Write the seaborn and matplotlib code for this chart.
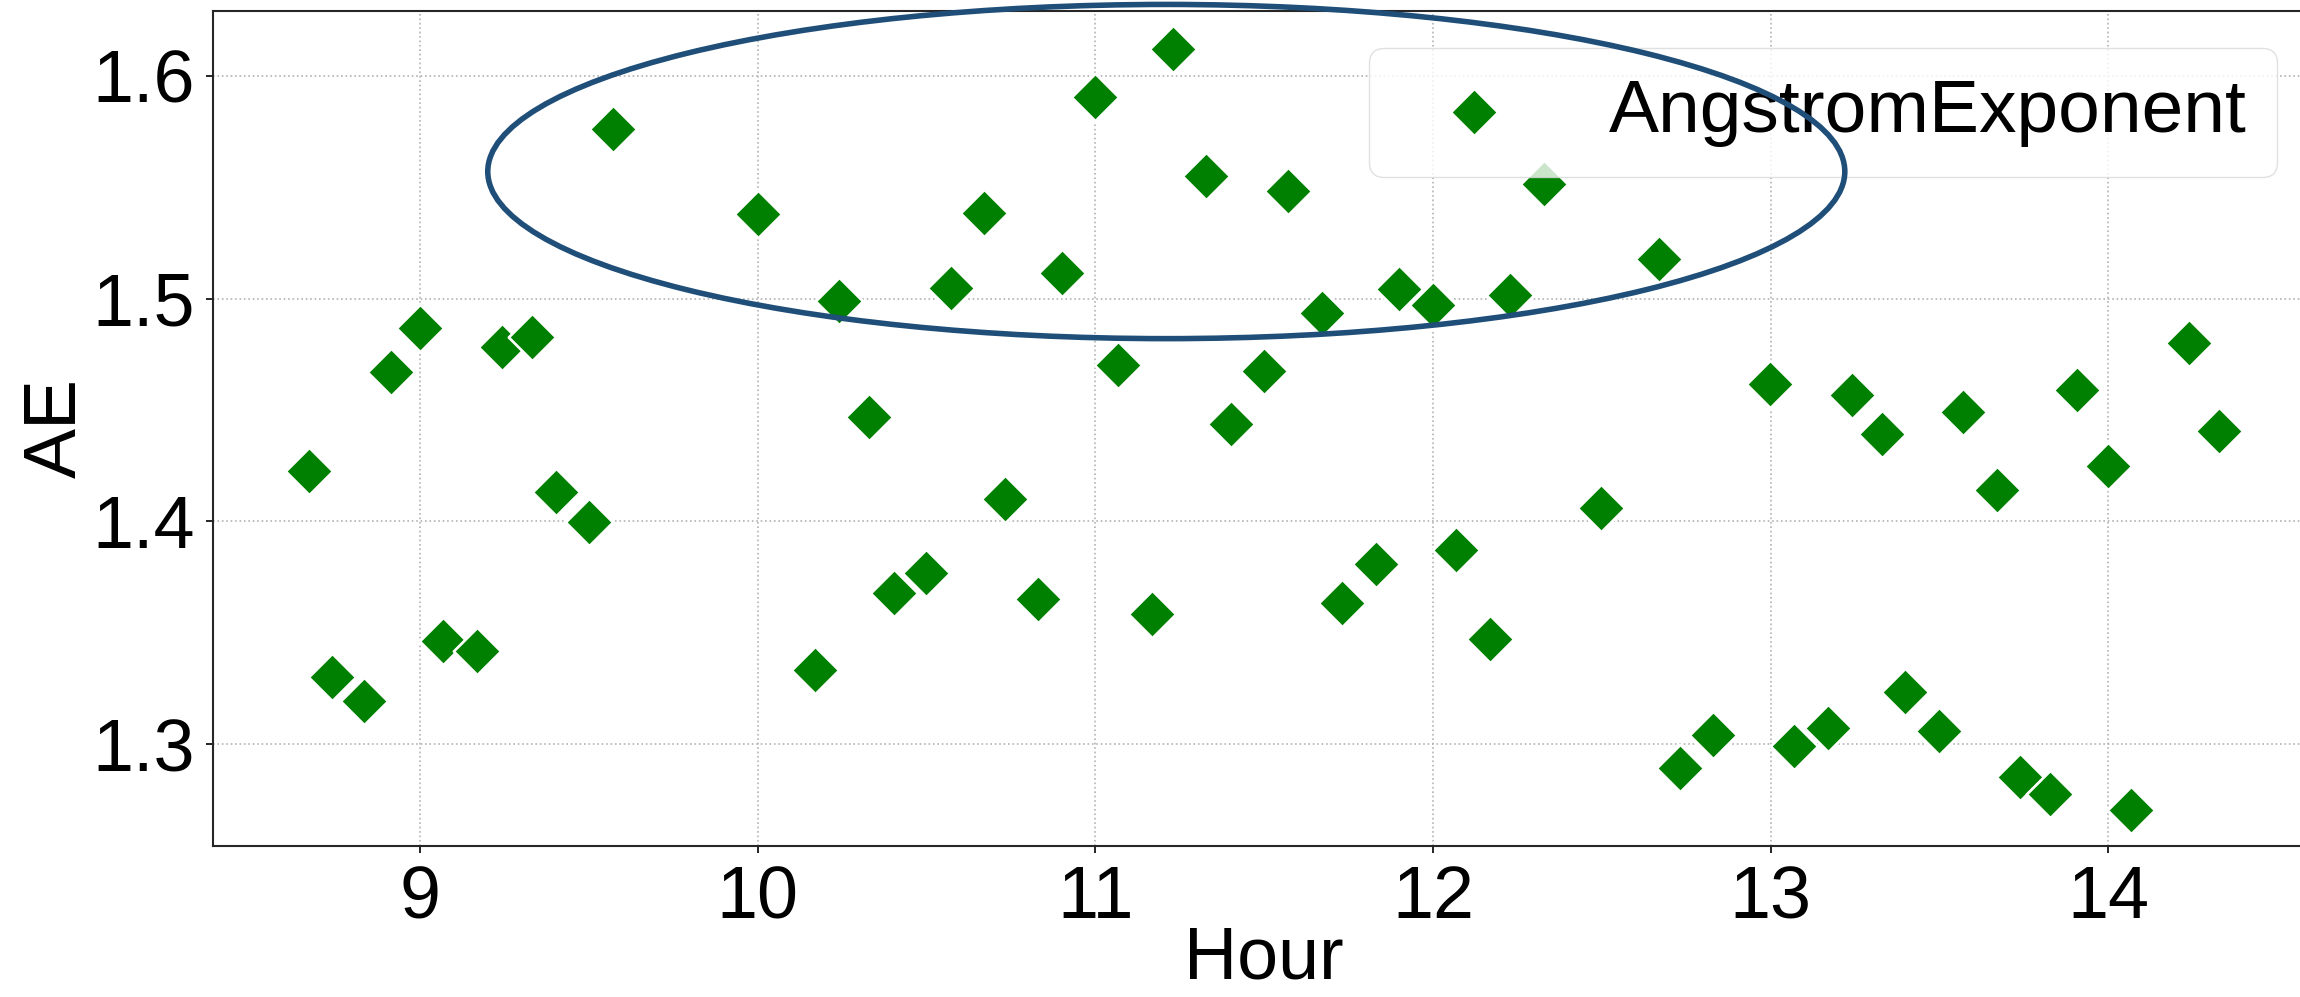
import numpy as np
import pandas as pd
import seaborn as sns
import matplotlib.pyplot as plt
from matplotlib.patches import Ellipse

# hour of day (decimal) and Angstrom exponent
hours = [8.671, 8.739, 8.832, 8.912, 9.000, 9.068, 9.169, 9.241, 9.330, 9.402,
         9.499, 9.571, 10.000, 10.169, 10.241, 10.329, 10.402, 10.498, 10.571, 10.671,
         10.732, 10.831, 10.900, 11.000, 11.068, 11.169, 11.229, 11.329, 11.402, 11.499,
         11.571, 11.672, 11.732, 11.832, 11.900, 12.000, 12.069, 12.168, 12.229, 12.330,
         12.498, 12.671, 12.732, 12.831, 12.997, 13.069, 13.169, 13.241, 13.330, 13.398,
         13.499, 13.571, 13.671, 13.740, 13.828, 13.908, 14.000, 14.069, 14.241, 14.329]
ae = [1.4225, 1.3303, 1.3192, 1.4668, 1.4867, 1.3462, 1.3418, 1.4781, 1.4829, 1.4132,
      1.3998, 1.5763, 1.5378, 1.3332, 1.4988, 1.4469, 1.3680, 1.3766, 1.5048, 1.5384,
      1.4102, 1.3650, 1.5116, 1.5903, 1.4703, 1.3583, 1.6121, 1.5549, 1.4436, 1.4676,
      1.5481, 1.4934, 1.3632, 1.3809, 1.5042, 1.4973, 1.3871, 1.3474, 1.5018, 1.5513,
      1.4060, 1.5177, 1.2893, 1.3040, 1.4616, 1.2992, 1.3072, 1.4567, 1.4391, 1.3235,
      1.3060, 1.4489, 1.4140, 1.2851, 1.2778, 1.4591, 1.4249, 1.2705, 1.4799, 1.4406]

x_ticks = [9, 10, 11, 12, 13, 14]
y_ticks = [1.3, 1.4, 1.5, 1.6]

df = pd.DataFrame({"Hour": hours, "AE": ae})

sns.set_style("whitegrid", {"grid.linestyle": ":", "grid.color": "0.7",
                            "axes.edgecolor": "0.15",
                            "xtick.bottom": True, "ytick.left": True})
plt.rcParams['font.family'] = ['Liberation Sans', 'DejaVu Sans']
plt.rcParams['text.color'] = 'black'
plt.rcParams['axes.labelcolor'] = 'black'
plt.rcParams['xtick.color'] = 'black'
plt.rcParams['ytick.color'] = 'black'

fig = plt.figure(figsize=(23, 9.97), dpi=100)
ax = fig.add_axes([0.0926, 0.1515, 0.9135, 0.8378])

sns.scatterplot(data=df, x="Hour", y="AE", marker="D", color="green", s=580,
                label="AngstromExponent", ax=ax, zorder=3)

ax.set_xlim(8.386, 14.61)
ax.set_ylim(1.2543, 1.6292)
ax.set_xticks(x_ticks)
ax.set_yticks(y_ticks)
ax.tick_params(labelsize=53, length=5, width=1.2, pad=8)
ax.set_xlabel("Hour", fontsize=53, labelpad=-6)
ax.set_ylabel("AE", fontsize=54, labelpad=1)
ax.grid(True, linestyle=":", color="0.7", linewidth=1.2)
for sp in ax.spines.values():
    sp.set_linewidth(1.5)

leg = ax.legend(loc="upper right", fontsize=54, fancybox=True, framealpha=0.8)
leg.get_frame().set_edgecolor("0.85")

# highlight region
ell = Ellipse((11.21, 1.557), 4.02, 0.15, fill=False, edgecolor="#1f4e79",
              linewidth=4, clip_on=False, zorder=6)
ax.add_patch(ell)

plt.savefig("out.png", dpi=100)
plt.close()
